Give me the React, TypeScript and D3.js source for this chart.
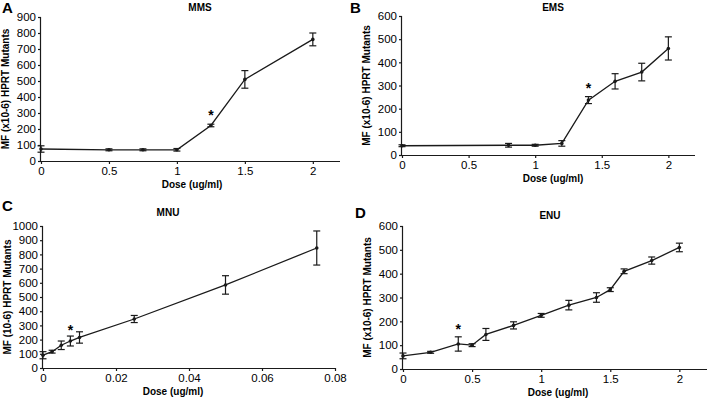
import React, { useEffect, useRef } from 'react';
import * as d3 from 'd3';

// Panel A - MMS
const mmsDose = [0, 0.5, 0.75, 1, 1.25, 1.5, 2];
const mmsMF = [75, 70, 70, 70, 222, 510, 760];
const mmsErr = [20, 6, 6, 8, 8, 55, 40];

// Panel B - EMS
const emsDose = [0, 0.8, 1, 1.2, 1.4, 1.6, 1.8, 2];
const emsMF = [40, 42, 42, 50, 237, 318, 358, 460];
const emsErr = [4, 8, 4, 12, 15, 33, 38, 50];

// Panel C - MNU
const mnuDose = [0, 0.0025, 0.005, 0.0075, 0.01, 0.025, 0.05, 0.075];
const mnuMF = [90, 115, 160, 190, 215, 345, 585, 845];
const mnuErr = [25, 10, 30, 35, 40, 25, 65, 120];

// Panel D - ENU
const enuDose = [0, 0.2, 0.4, 0.5, 0.6, 0.8, 1, 1.2, 1.4, 1.5, 1.6, 1.8, 2];
const enuMF = [55, 70, 105, 100, 145, 183, 225, 268, 300, 333, 410, 455, 510];
const enuErr = [12, 4, 30, 6, 25, 15, 8, 20, 20, 8, 10, 15, 18];

const doseTicks = [0, 0.5, 1, 1.5, 2];
const mnuTicks = [0, 0.02, 0.04, 0.06, 0.08];

interface PanelSpec {
  letter: string;
  title: string;
  yLabel: string;
  dose: number[];
  mf: number[];
  err: number[];
  star: number; // index of starred point
  starVal: number;
  xMax: number;
  xTicks: number[];
  yMax: number;
  yStep: number;
  // placement (pixels)
  x0: number; x1: number;
  y0: number; y1: number;
  letterX: number; letterY: number;
  titleX: number; titleY: number;
  doseX: number;
}

const panels: PanelSpec[] = [
  { letter: 'A', title: 'MMS', yLabel: 'MF (x10-6) HPRT Mutants', dose: mmsDose, mf: mmsMF, err: mmsErr,
    star: 4, starVal: 300, xMax: 2.2, xTicks: doseTicks, yMax: 900, yStep: 100,
    x0: 41, x1: 340, y0: 161, y1: 17, letterX: 2, letterY: 13, titleX: 200, titleY: 11, doseX: 192 },
  { letter: 'B', title: 'EMS', yLabel: 'MF (x10-6) HPRT Mutants', dose: emsDose, mf: emsMF, err: emsErr,
    star: 4, starVal: 300, xMax: 2.2, xTicks: doseTicks, yMax: 600, yStep: 100,
    x0: 402, x1: 695, y0: 155, y1: 16, letterX: 350, letterY: 13, titleX: 553, titleY: 11, doseX: 553 },
  { letter: 'C', title: 'MNU', yLabel: 'MF (10-6) HPRT Mutants', dose: mnuDose, mf: mnuMF, err: mnuErr,
    star: 3, starVal: 285, xMax: 0.08, xTicks: mnuTicks, yMax: 1000, yStep: 100,
    x0: 43, x1: 335, y0: 368, y1: 226, letterX: 2, letterY: 211, titleX: 168, titleY: 216, doseX: 173 },
  { letter: 'D', title: 'ENU', yLabel: 'MF (x10-6) HPRT Mutants', dose: enuDose, mf: enuMF, err: enuErr,
    star: 2, starVal: 175, xMax: 2.2, xTicks: doseTicks, yMax: 600, yStep: 100,
    x0: 403, x1: 707, y0: 369, y1: 226, letterX: 355, letterY: 218, titleX: 550, titleY: 219, doseX: 558 },
];

const W = 709;
const H = 400;
const FONT = 'Liberation Sans, Arial, sans-serif';
const INK = '#1a1a1a';

const App: React.FC = () => {
  const ref = useRef<SVGSVGElement | null>(null);

  useEffect(() => {
    const svg = d3.select(ref.current);
    svg.selectAll('*').remove();

    panels.forEach(p => {
      const x = d3.scaleLinear().domain([0, p.xMax]).range([p.x0, p.x1]);
      const y = d3.scaleLinear().domain([0, p.yMax]).range([p.y0, p.y1]);
      const g = svg.append('g');

      // y axis
      const yAxis = d3.axisLeft(y)
        .tickValues(d3.range(0, p.yMax + 1, p.yStep))
        .tickSize(3)
        .tickPadding(2)
        .tickFormat(d3.format('d'));
      const ya = g.append('g').attr('transform', `translate(${p.x0},0)`).call(yAxis);
      ya.select('.domain').attr('d', `M-0.5,${p.y0}V${p.y1}`);

      // x axis
      const xAxis = d3.axisBottom(x)
        .tickValues(p.xTicks)
        .tickSize(3)
        .tickPadding(3)
        .tickFormat(d => String(+(+d).toFixed(3)));
      const xa = g.append('g').attr('transform', `translate(0,${p.y0})`).call(xAxis);
      xa.select('.domain').attr('d', `M${p.x0},0.5H${p.x1}`);

      [ya, xa].forEach(a => {
        a.selectAll('path,line').attr('stroke', INK).attr('stroke-width', 1.2);
        a.selectAll('text').attr('font-family', FONT).attr('font-size', 11.5).attr('fill', '#000');
      });

      // axis titles
      const midY = (p.y0 + p.y1) / 2;
      g.append('text')
        .attr('transform', `translate(${p.x0 - 32},${midY}) rotate(-90)`)
        .attr('text-anchor', 'middle')
        .attr('font-family', FONT).attr('font-size', 10).attr('font-weight', 'bold')
        .text(p.yLabel);
      g.append('text')
        .attr('x', p.doseX).attr('y', p.y0 + 27)
        .attr('text-anchor', 'middle')
        .attr('font-family', FONT).attr('font-size', 10).attr('font-weight', 'bold')
        .text('Dose (ug/ml)');
      g.append('text')
        .attr('x', p.titleX).attr('y', p.titleY)
        .attr('text-anchor', 'middle')
        .attr('font-family', FONT).attr('font-size', 10).attr('font-weight', 'bold')
        .text(p.title);
      g.append('text')
        .attr('x', p.letterX).attr('y', p.letterY)
        .attr('font-family', FONT).attr('font-size', 15).attr('font-weight', 'bold')
        .text(p.letter);

      const pts = p.dose.map((d, i) => ({ d, v: p.mf[i], e: p.err[i] }));

      // line
      const line = d3.line<{ d: number; v: number }>().x(q => x(q.d)).y(q => y(q.v));
      g.append('path').datum(pts).attr('d', line).attr('fill', 'none')
        .attr('stroke', INK).attr('stroke-width', 1.3);

      // error bars
      const eb = g.selectAll('g.eb').data(pts).enter().append('g');
      eb.append('line')
        .attr('x1', q => x(q.d)).attr('x2', q => x(q.d))
        .attr('y1', q => y(q.v - q.e)).attr('y2', q => y(q.v + q.e))
        .attr('stroke', INK).attr('stroke-width', 1.2);
      [-1, 1].forEach(s => {
        eb.append('line')
          .attr('x1', q => x(q.d) - 3.5).attr('x2', q => x(q.d) + 3.5)
          .attr('y1', q => y(q.v + s * q.e)).attr('y2', q => y(q.v + s * q.e))
          .attr('stroke', INK).attr('stroke-width', 1.2);
      });
      eb.append('circle')
        .attr('cx', q => x(q.d)).attr('cy', q => y(q.v)).attr('r', 1.8)
        .attr('fill', INK);

      // significance star
      g.append('text')
        .attr('x', x(p.dose[p.star])).attr('y', y(p.starVal) + 7)
        .attr('text-anchor', 'middle')
        .attr('font-family', FONT).attr('font-size', 14).attr('font-weight', 'bold')
        .text('*');
    });
  }, []);

  return (
    <svg ref={ref} width={W} height={H}
      style={{ position: 'absolute', left: 0, top: 0, background: '#fff' }} />
  );
};

export default App;
